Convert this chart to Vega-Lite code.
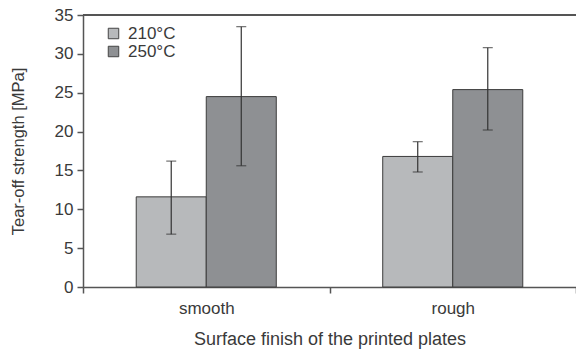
{
  "$schema": "https://vega.github.io/schema/vega-lite/v6.json",
  "autosize": "none",
  "width": 493,
  "height": 272,
  "padding": {"left": 83, "top": 15, "right": 0, "bottom": 67},
  "background": "#ffffff",
  "config": {
    "view": {"stroke": null},
    "font": "Liberation Sans",
    "axis": {"labelFont": "Liberation Sans", "titleFont": "Liberation Sans", "labelColor": "#3a3a3a", "titleColor": "#3a3a3a", "titleFontWeight": "normal", "domainColor": "#555555", "tickColor": "#555555", "domainWidth": 1.5, "tickWidth": 1.5, "grid": false},
    "axisY": {"values": [0, 5, 10, 15, 20, 25, 30, 35], "tickSize": 6, "labelPadding": 4, "titlePadding": 28, "labelFontSize": 17, "titleFontSize": 16.5, "titleColor": "#3a3a3a", "titleFont": "Liberation Sans"}
  },
  "data": {"values": [
    {"surface": "smooth", "temp": "210°C", "value": 11.6, "lo": 6.8, "hi": 16.2},
    {"surface": "smooth", "temp": "250°C", "value": 24.5, "lo": 15.6, "hi": 33.5},
    {"surface": "rough", "temp": "210°C", "value": 16.8, "lo": 14.8, "hi": 18.7},
    {"surface": "rough", "temp": "250°C", "value": 25.4, "lo": 20.2, "hi": 30.8}
  ]},
  "layer": [
    {
      "mark": {"type": "bar", "stroke": "#3c3c3c", "strokeWidth": 1},
      "encoding": {
        "x": {"field": "surface", "type": "nominal", "sort": ["smooth", "rough"], "scale": {"paddingInner": 0, "paddingOuter": 0},
          "axis": {"title": "Surface finish of the printed plates", "labelAngle": 0, "tickBand": "extent", "tickSize": 6, "labelPadding": 7, "titlePadding": 14, "labelFontSize": 17, "titleFontSize": 18}},
        "xOffset": {"field": "temp", "type": "nominal", "scale": {"paddingInner": 0, "paddingOuter": 0.76}},
        "y": {"field": "value", "type": "quantitative", "scale": {"domain": [0, 35]}, "title": "Tear-off strength [MPa]",
          "axis": {"titleFontSize": 16.5, "titleColor": "#3a3a3a", "titlePadding": 28}},
        "color": {"field": "temp", "type": "nominal", "scale": {"domain": ["210°C", "250°C"], "range": ["#b7b9bb", "#8e9093"]},
          "legend": {"title": null, "orient": "none", "legendX": 22, "legendY": 10, "padding": 0, "symbolType": "square", "symbolSize": 110, "symbolStrokeColor": "#444444", "symbolStrokeWidth": 1, "labelFontSize": 17, "labelFont": "Liberation Sans", "labelColor": "#3a3a3a", "rowPadding": 0, "labelOffset": 6}}
      }
    },
    {
      "mark": {"type": "rule", "color": "#333333", "strokeWidth": 1.2},
      "encoding": {
        "x": {"field": "surface", "type": "nominal", "sort": ["smooth", "rough"]},
        "xOffset": {"field": "temp", "type": "nominal"},
        "y": {"field": "lo", "type": "quantitative", "title": "Tear-off strength [MPa]"}, "y2": {"field": "hi"}}
    },
    {
      "mark": {"type": "tick", "color": "#333333", "thickness": 1.2, "size": 10, "orient": "horizontal"},
      "encoding": {
        "x": {"field": "surface", "type": "nominal", "sort": ["smooth", "rough"]},
        "xOffset": {"field": "temp", "type": "nominal"},
        "y": {"field": "lo", "type": "quantitative", "title": "Tear-off strength [MPa]"}}
    },
    {
      "mark": {"type": "tick", "color": "#333333", "thickness": 1.2, "size": 10, "orient": "horizontal"},
      "encoding": {
        "x": {"field": "surface", "type": "nominal", "sort": ["smooth", "rough"]},
        "xOffset": {"field": "temp", "type": "nominal"},
        "y": {"field": "hi", "type": "quantitative", "title": "Tear-off strength [MPa]"}}
    },
    {
      "mark": {"type": "rule", "color": "#555555", "strokeWidth": 1.5},
      "encoding": {"y": {"datum": 35, "title": "Tear-off strength [MPa]"}}
    }
  ]
}
